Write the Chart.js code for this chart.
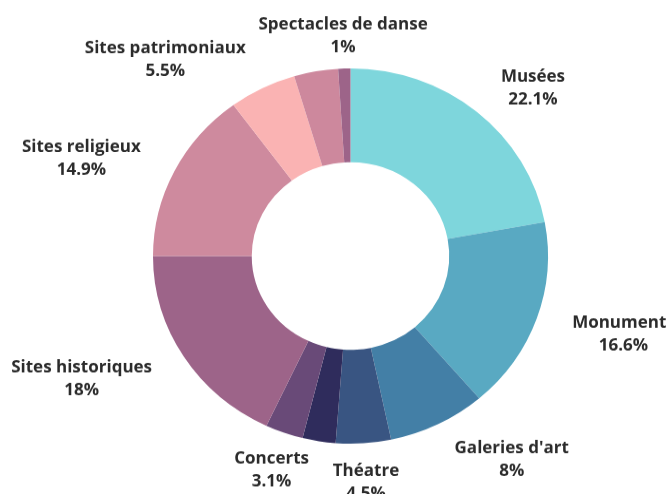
<!DOCTYPE html>
<html>
<head>
<meta charset="utf-8">
<script src="https://cdn.jsdelivr.net/npm/chart.js@4.4.0/dist/chart.umd.min.js"></script>
<style>
  html, body { margin: 0; padding: 0; background: #fff; overflow: hidden; }
  /* the reference is slightly squashed vertically, so draw taller and scale down;
     it is also cut a few px short on the right */
  #wrap { width: 666px; height: 520px; overflow: hidden; transform: scaleY(0.95); transform-origin: 0 0; }
</style>
</head>
<body>
<div id="wrap"><canvas id="chart" width="669" height="520"></canvas></div>
<script>
const categories = ['Musées', 'Monuments', "Galeries d'art", 'Théatre', 'Opéra', 'Concerts',
    'Sites historiques', 'Sites religieux', 'Sites patrimoniaux', 'Festivals', 'Spectacles de danse'];
const shares = [22.1, 16.6, 8, 4.5, 2.7, 3.1, 18, 14.9, 5.5, 3.6, 1];
const sliceColors = ['#7ed6dc', '#59a9c2', '#437fa6', '#395582', '#2f2c5c', '#694a78',
    '#9d6489', '#ce8a9e', '#fab3b3', '#cd889d', '#9d6489'];

const LINE_H = 24;

function fmtPct(p) {
    return (Math.round(p * 10) / 10).toString() + '%';
}

// labels outside the ring; later slices win, a label that runs into one is dropped
const outsideLabels = {
    id: 'outsideLabels',
    afterDatasetsDraw(chart) {
        const ctx = chart.ctx;
        const meta = chart.getDatasetMeta(0);
        const values = chart.data.datasets[0].data;
        const total = values.reduce((a, b) => a + b, 0);
        const placed = [];
        ctx.save();
        ctx.font = 'bold 17px "Open Sans"';
        ctx.fillStyle = '#2b2b2b';
        ctx.textAlign = 'center';
        ctx.textBaseline = 'middle';
        for (let i = meta.data.length - 1; i >= 0; i--) {
            const p = meta.data[i].getProps(['x', 'y', 'startAngle', 'endAngle', 'outerRadius'], true);
            const mid = (p.startAngle + p.endAngle) / 2;
            const vx = Math.cos(mid), vy = Math.sin(mid);
            const r = p.outerRadius * 1.19;
            const lines = [chart.data.labels[i], fmtPct(values[i] / total * 100)];
            const w = Math.max(...lines.map(t => ctx.measureText(t).width));
            const h = lines.length * LINE_H;
            let cx = p.x + vx * r;
            const cy = p.y + vy * r + 4;
            if (Math.abs(vx) > 0.4) cx += Math.sign(vx) * w / 2;
            const box = { l: cx - w / 2, r: cx + w / 2, t: cy - h / 2, b: cy + h / 2 };
            const hit = placed.some(b => !(box.l > b.r || box.r < b.l || box.t > b.b || box.b < b.t));
            if (hit) continue;
            placed.push(box);
            lines.forEach((t, k) => {
                ctx.fillText(t, cx, cy + (k - (lines.length - 1) / 2) * LINE_H);
            });
        }
        ctx.restore();
    }
};

function draw() {
    new Chart(document.getElementById('chart').getContext('2d'), {
        type: 'doughnut',
        data: {
            labels: categories,
            datasets: [{
                data: shares,
                backgroundColor: sliceColors,
                borderWidth: 0
            }]
        },
        options: {
            responsive: false,
            animation: false,
            cutout: '50%',
            layout: { padding: { left: 153, right: 121, top: 72, bottom: 53 } },
            plugins: {
                legend: { display: false },
                tooltip: { enabled: false }
            }
        },
        plugins: [outsideLabels]
    });
}

document.fonts.load('bold 17px "Open Sans"').then(draw, draw);
</script>
</body>
</html>
